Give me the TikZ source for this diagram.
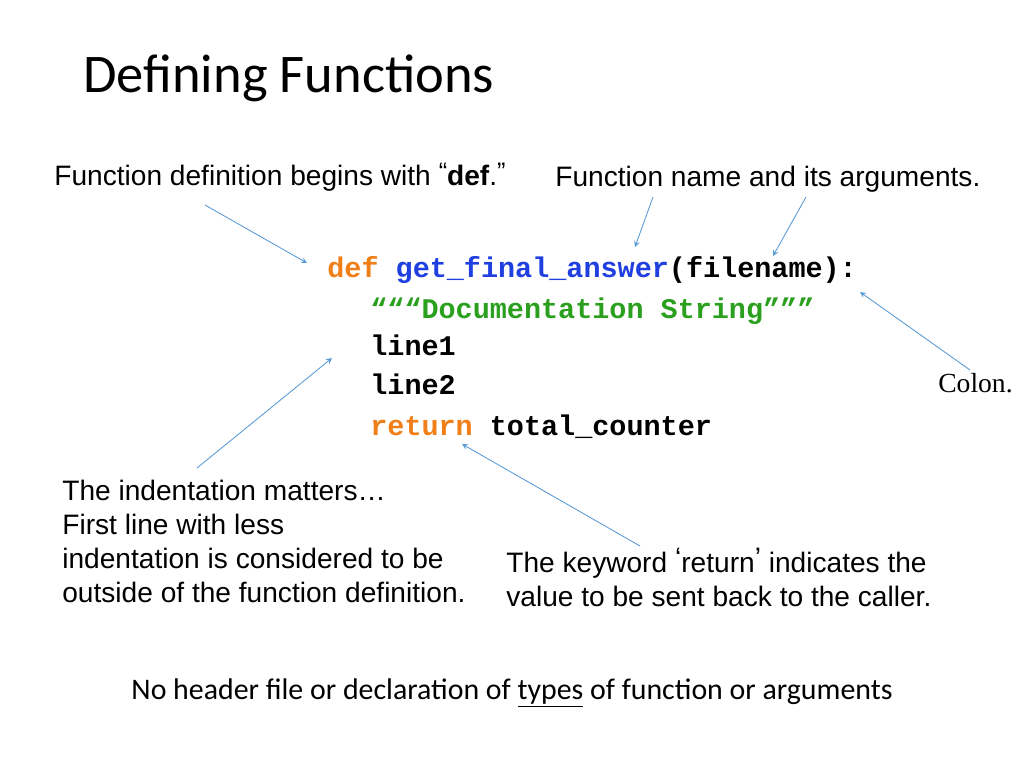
\documentclass[tikz,border=0pt]{standalone}
\usepackage{fontspec}
\setmainfont{Liberation Sans}
\newfontfamily\calib{Carlito}
\newfontfamily\codefont{Liberation Mono}
\newfontfamily\serifb{Liberation Serif}
\usetikzlibrary{positioning}
\definecolor{arrblue}{HTML}{5B9BD5}
\definecolor{kworange}{HTML}{F07F19}
\definecolor{fnblue}{HTML}{1F3FE0}
\definecolor{docgreen}{HTML}{2BA01E}
\tikzset{
  note/.style={anchor=west, inner sep=0pt, font=\fontsize{16}{19.3}\selectfont},
  code/.style={anchor=west, inner sep=0pt, font=\codefont\bfseries\fontsize{16.2}{19}\selectfont},
  point/.style={->, >=stealth, arrblue, line width=0.5pt}
}
\begin{document}
\begin{tikzpicture}[x=0.02cm, y=-0.02cm]
  \useasboundingbox (0,0) rectangle (1024,768);
  \node[anchor=west, inner sep=0pt, font=\calib\fontsize{31}{36}\selectfont] (title) at (83,78) {Defining Functions};
  \node[note] (defnote) at (54,177) {Function definition begins with \raisebox{3pt}{\Large“}\textbf{def}.\raisebox{3pt}{\Large”}};
  \node[note] (namenote) at (555,179) {Function name and its arguments.};
  \node[code] (l0) at (327,270) {\textcolor{kworange}{def} \textcolor{fnblue}{get\_final\_answer}(filename):};
  \node[code] (l1) at (370,311) {\textcolor{docgreen}{“““Documentation String”””}};
  \node[code] (l2) at (370,345) {line1};
  \node[code] (l3) at (370,384) {line2};
  \node[code] (l4) at (370,427) {\textcolor{kworange}{return} total\_counter};
  \node[anchor=east, inner sep=0pt, font=\serifb\fontsize{15.7}{18}\selectfont] (colon) at (1013,383) {Colon.};
  \node[note, anchor=north west, align=left] (indent) at (62,480) {The indentation matters…\\First line with less\\indentation is considered to be\\outside of the function definition.};
  \node[note, anchor=north west, align=left] (retnote) at (506,548) {The keyword \raisebox{3pt}{‘}return\raisebox{3pt}{’} indicates the\\value to be sent back to the caller.};
  \node[inner sep=0pt, font=\calib\fontsize{17}{20}\selectfont] (bottom) at (512,693) {No header file or declaration of \underline{types} of function or arguments};
  % arrows
  \coordinate (a1) at (205,205); \coordinate (b1) at (307,263);
  \coordinate (a2) at (653,197); \coordinate (b2) at (635,247);
  \coordinate (a3) at (806,197); \coordinate (b3) at (773,256);
  \coordinate (a4) at (970,370); \coordinate (b4) at (860,292);
  \coordinate (a5) at (197,468); \coordinate (b5) at (332,358);
  \coordinate (a6) at (640,546); \coordinate (b6) at (462,444);
  \foreach \i in {1,...,6} \draw[point] (a\i) -- (b\i);
\end{tikzpicture}
\end{document}
